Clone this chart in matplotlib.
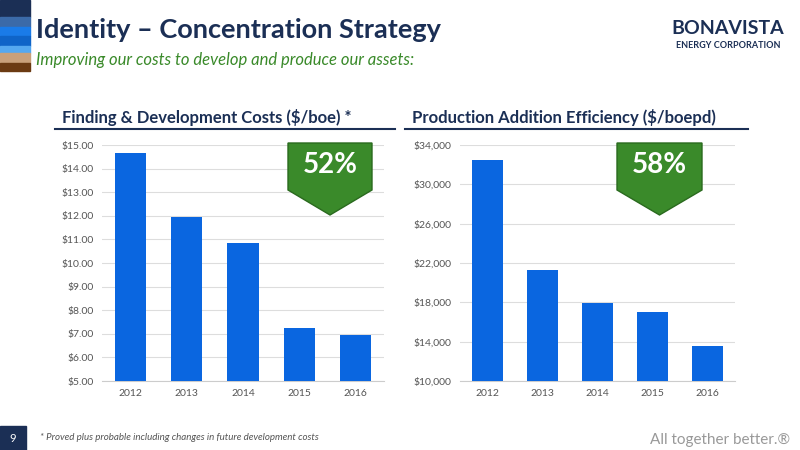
import matplotlib
matplotlib.use("Agg")
import matplotlib.pyplot as plt
from matplotlib.patches import Polygon, Rectangle
from matplotlib.lines import Line2D

years = ["2012", "2013", "2014", "2015", "2016"]
fd_costs = [14.65, 11.95, 10.85, 7.25, 6.97]
prod_eff = [32500, 21300, 17900, 17000, 13600]
fd_ticks = [5, 6, 7, 8, 9, 10, 11, 12, 13, 14, 15]
pe_ticks = [10000, 14000, 18000, 22000, 26000, 30000, 34000]

plt.rcParams['font.family'] = ['Lato', 'DejaVu Sans']
W, H = 800, 450
fig = plt.figure(figsize=(8, 4.5), dpi=100)
fig.patch.set_facecolor("white")
NAVY = "#1b2f55"; BLUE = "#0a66e0"; GREEN = "#3a8a2a"

def fx(x): return x / W
def fy(y): return 1 - y / H

# side strip
strip = ["#1b2f55", "#3b6aa8", "#1a7be8", "#0f64c8", "#55a8f0", "#c9a07a", "#6b3a12"]
ys = [0, 17, 27, 36, 46, 53, 63, 71]
for c, (a, b) in zip(strip, zip(ys[:-1], ys[1:])):
    fig.add_artist(Rectangle((0, fy(b)), fx(30), (b - a) / H, color=c, transform=fig.transFigure))

fig.text(fx(36), fy(30), "Identity – Concentration Strategy", fontsize=19.5, fontweight="bold", color=NAVY, va="center")
fig.text(fx(36), fy(60), "Improving our costs to develop and produce our assets:", fontsize=12, style="italic", color=GREEN, va="center")
fig.text(fx(728), fy(28), "BONAVISTA", fontsize=14, fontweight="bold", color=NAVY, ha="center", va="center")
fig.text(fx(728), fy(45), "ENERGY CORPORATION", fontsize=6.5, fontweight="bold", color=NAVY, ha="center", va="center")

for x0, x1, t in [(55, 395, "Finding & Development Costs ($/boe) *"), (405, 748, "Production Addition Efficiency ($/boepd)")]:
    fig.text(fx(x0 + 7), fy(117), t, fontsize=12, fontweight="bold", color=NAVY, va="center")
    fig.add_artist(Line2D([fx(x0), fx(x1)], [fy(129), fy(129)], color=NAVY, lw=1.5, transform=fig.transFigure))

def make(rect, vals, ticks, fmt):
    ax = fig.add_axes(rect)
    ax.bar(range(len(years)), vals, width=0.55, color=BLUE, zorder=3)
    ax.set_xlim(-0.5, 4.5)
    ax.set_ylim(ticks[0], ticks[-1])
    ax.set_yticks(ticks)
    ax.set_yticklabels([fmt(t) for t in ticks])
    ax.set_xticks(range(len(years)))
    ax.set_xticklabels(years)
    ax.tick_params(length=0, labelsize=7.5, colors="#555555", pad=6)
    ax.grid(axis="y", color="#dddddd", lw=0.8, zorder=0)
    for s in ["top", "right", "left"]:
        ax.spines[s].set_visible(False)
    ax.spines["bottom"].set_color("#cccccc")
    return ax

make([fx(102), fy(381), fx(282), 236 / H], fd_costs, fd_ticks, lambda t: f"${t:.2f}")
make([fx(460), fy(381), fx(275), 236 / H], prod_eff, pe_ticks, lambda t: f"${t:,.0f}")

def badge(x0, x1, text):
    xm = (x0 + x1) / 2
    pts = [(x0, 143), (x1, 143), (x1, 190), (xm, 215), (x0, 190)]
    fig.add_artist(Polygon([(fx(a), fy(b)) for a, b in pts], closed=True, facecolor=GREEN,
                           edgecolor="#2a6a1e", lw=1, transform=fig.transFigure))
    fig.text(fx(xm), fy(165), text, fontsize=20, fontweight="bold", color="white", ha="center", va="center")

badge(288, 372, "52%")
badge(617, 702, "58%")

fig.add_artist(Rectangle((0, 0), fx(26), 24 / H, color=NAVY, transform=fig.transFigure))
fig.text(fx(13), fy(438), "9", fontsize=8, color="white", ha="center", va="center")
fig.text(fx(40), fy(438), "* Proved plus probable including changes in future development costs", fontsize=7, style="italic", color="#555555", va="center")
fig.text(fx(790), fy(440), "All together better.®", fontsize=11, color="#999999", ha="right", va="center")

fig.savefig("out.png", dpi=100)
